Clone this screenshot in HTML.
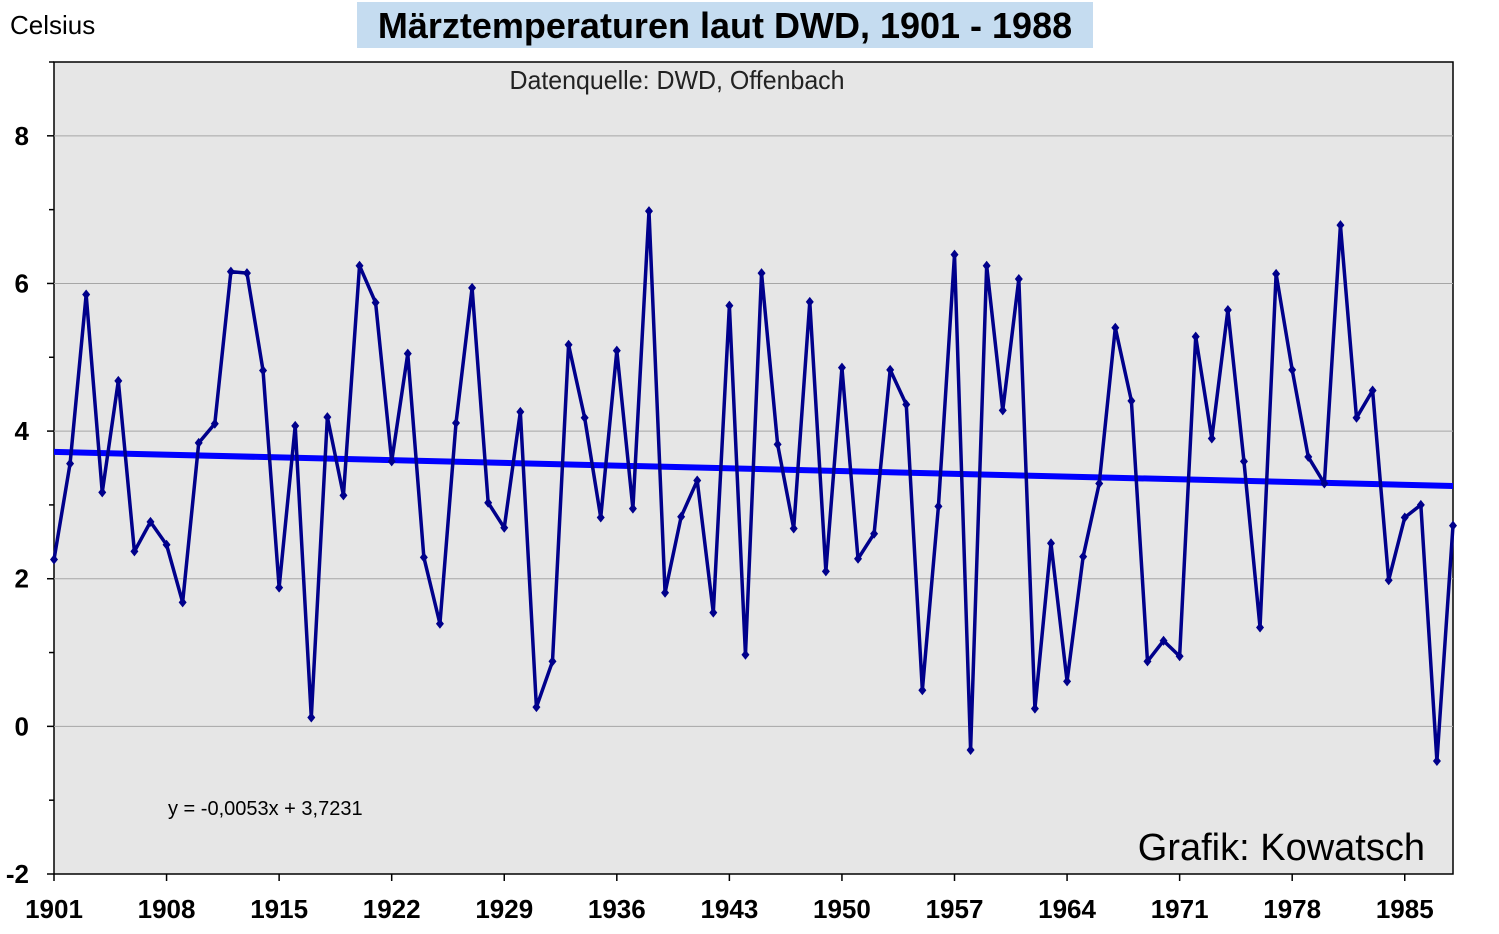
<!DOCTYPE html>
<html><head><meta charset="utf-8">
<style>
body{margin:0;background:#fff;width:1499px;height:929px;overflow:hidden;font-family:"Liberation Sans",sans-serif;}
</style></head>
<body>
<svg id="chart" width="1499" height="929" xmlns="http://www.w3.org/2000/svg">
<rect x="357" y="2" width="736" height="46" fill="#c5dcf0"/>
<text x="725" y="38" text-anchor="middle" font-size="36" font-weight="bold" fill="#000">Märztemperaturen laut DWD, 1901 - 1988</text>
<text x="10" y="34" font-size="26" fill="#000">Celsius</text>
<rect x="54" y="62" width="1399" height="812" fill="#e6e6e6" stroke="#000" stroke-width="1.5"/>
<g id="grid"></g>
<g id="axes"></g>
<text x="677" y="89" text-anchor="middle" font-size="26" fill="#222" transform="translate(677 0) scale(0.96 1) translate(-677 0)">Datenquelle: DWD, Offenbach</text>
<g id="trend"></g>
<g id="series"></g>
<text x="168" y="815" font-size="20" fill="#000">y = -0,0053x + 3,7231</text>
<text x="1425" y="860" text-anchor="end" font-size="38" fill="#000">Grafik: Kowatsch</text>
</svg>
<script>
const years=[];for(let y=1901;y<=1988;y++)years.push(y);
const temps=[2.26,3.56,5.85,3.17,4.68,2.37,2.77,2.46,1.68,3.84,4.10,6.16,6.14,4.82,1.88,4.07,0.12,4.19,3.13,6.24,5.74,3.59,5.05,2.29,1.39,4.11,5.94,3.03,2.69,4.26,0.26,0.88,5.17,4.18,2.83,5.09,2.95,6.98,1.81,2.84,3.33,1.54,5.70,0.97,6.14,3.82,2.68,5.75,2.10,4.86,2.27,2.61,4.83,4.36,0.49,2.98,6.39,-0.32,6.24,4.28,6.06,0.24,2.48,0.61,2.30,3.29,5.40,4.41,0.88,1.16,0.95,5.28,3.90,5.64,3.59,1.34,6.13,4.83,3.65,3.29,6.79,4.18,4.55,1.98,2.83,3.00,-0.47,2.72];
const yTicks=[-2,0,2,4,6,8];
const xTicks=[1901,1908,1915,1922,1929,1936,1943,1950,1957,1964,1971,1978,1985];
const trendSlope=-0.0053, trendIntercept=3.7231;
const NS="http://www.w3.org/2000/svg";
const X0=54,X1=1453,Y0=874,Y1=62,YMIN=-2,YMAX=9;
const xs=v=>X0+(v-1901)/(1988-1901)*(X1-X0);
const ys=v=>Y0-(v-YMIN)/(YMAX-YMIN)*(Y0-Y1);
function mk(tag,attrs,parent){const e=document.createElementNS(NS,tag);for(const k in attrs)e.setAttribute(k,attrs[k]);parent.appendChild(e);return e;}
const grid=document.getElementById('grid'),axes=document.getElementById('axes');
yTicks.forEach(t=>{
  const y=ys(t);
  if(t>YMIN){const g=mk('line',{x1:X0,x2:X1,y1:y,y2:y,stroke:'#a6a6a6','stroke-width':1},grid);
  
  }
  const tk=mk('line',{x1:X0-7,x2:X0,y1:y,y2:y,stroke:'#000','stroke-width':1.5},axes);
  
  
  const mt=mk('line',{x1:X0-5,x2:X0,y1:ys(t+1),y2:ys(t+1),stroke:'#000','stroke-width':1.5},axes);
  
  
  const tx=mk('text',{x:29,y:y+9,'text-anchor':'end','font-size':26,'font-weight':'bold'},axes);
  tx.textContent=t;
  
  
});
xTicks.forEach(t=>{
  const x=xs(t);
  const tk=mk('line',{x1:x,x2:x,y1:Y0,y2:Y0+7,stroke:'#000','stroke-width':1.5},axes);
  
  
  const tx=mk('text',{x:x,y:918,'text-anchor':'middle','font-size':26,'font-weight':'bold'},axes);
  tx.textContent=t;
  
  
});
const tr=document.getElementById('trend');
const tl=mk('line',{x1:xs(1901),y1:ys(trendIntercept+trendSlope*1),x2:xs(1988),y2:ys(trendIntercept+trendSlope*88),stroke:'#0000ff','stroke-width':6},tr);


const s=document.getElementById('series');
const pts=years.map((yr,i)=>xs(yr)+','+ys(temps[i])).join(' ');
const pl=mk('polyline',{points:pts,fill:'none',stroke:'#00008b','stroke-width':3.5,'stroke-linejoin':'round'},s);


years.forEach((yr,i)=>{
  const x=xs(yr),y=ys(temps[i]);
  const m=mk('polygon',{points:`${x},${y-5} ${x+4},${y} ${x},${y+5} ${x-4},${y}`,fill:'#00008b'},s);
  
  
});
</script>
</body></html>
